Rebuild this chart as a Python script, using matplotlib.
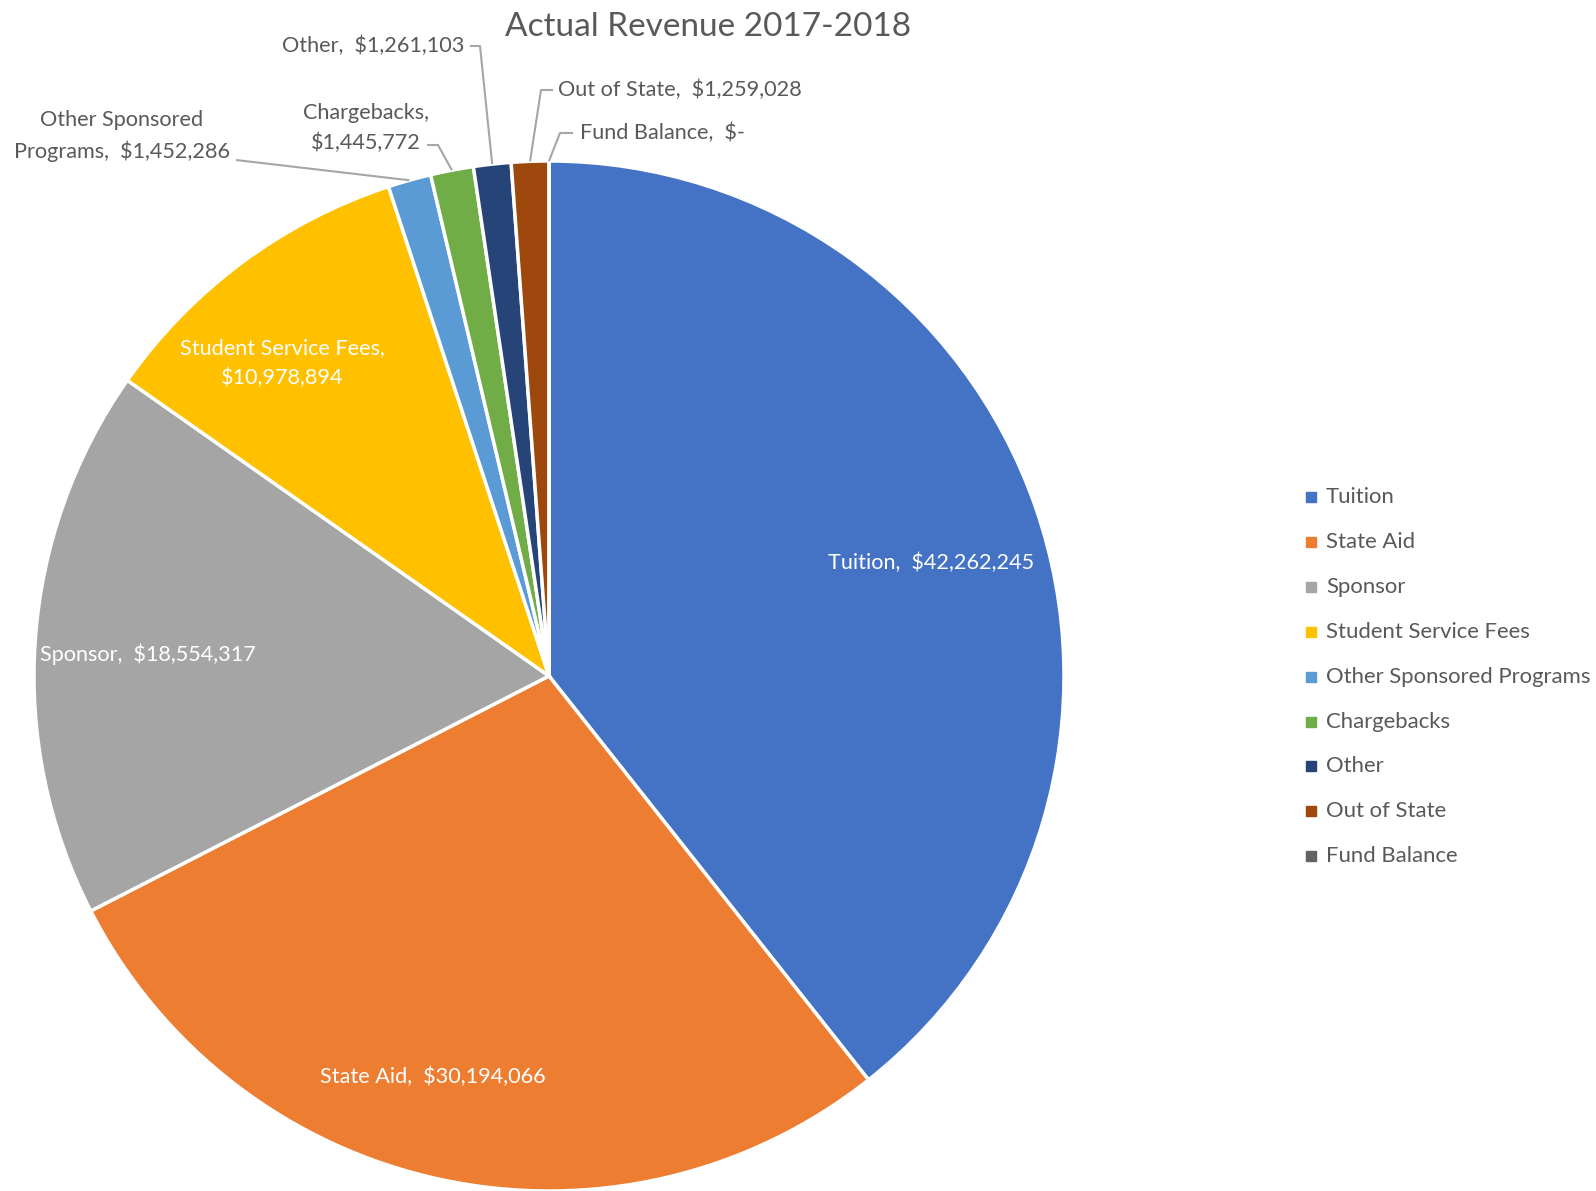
import numpy as np
import matplotlib
matplotlib.use("Agg")
import matplotlib.pyplot as plt

plt.rcParams['font.family'] = ['Lato', 'DejaVu Sans']

categories = ["Tuition", "State Aid", "Sponsor", "Student Service Fees",
              "Other Sponsored Programs", "Chargebacks", "Other",
              "Out of State", "Fund Balance"]
revenue = [42262245, 30194066, 18554317, 10978894, 1452286, 1445772,
           1261103, 1259028, 0]
colors = ["#4472C4", "#ED7D31", "#A5A5A5", "#FFC000", "#5B9BD5",
          "#70AD47", "#264478", "#9E480E", "#636363"]
title = "Actual Revenue 2017-2018"

W, H = 1596, 1191
fig = plt.figure(figsize=(W / 100, H / 100), dpi=100)
ax = fig.add_axes([0, 0, 1, 1])

def Y(y):
    # convert a top-down pixel row to the axes' bottom-up coordinate
    return H - y

cx, cy, R = 549, Y(676), 515
wedges, _ = ax.pie(revenue, colors=colors, startangle=90, counterclock=False,
                   center=(cx, cy), radius=R,
                   wedgeprops=dict(edgecolor='white', linewidth=2.5))
ax.set_xlim(0, W)
ax.set_ylim(0, H)
ax.set_aspect('equal')
ax.axis('off')

def fmt(v):
    return "$-" if v == 0 else "${:,}".format(v)

def edge_point(i):
    w = wedges[i]
    ang = np.deg2rad((w.theta1 + w.theta2) / 2)
    return cx + R * np.cos(ang), cy + R * np.sin(ang)

txt_col = "#595959"
lab_fs = 15.6
ls = 1.6

# labels inside the large slices
inside = {0: (931, 563), 1: (433, 1077), 2: (148, 654)}
for i, (x, y) in inside.items():
    ax.text(x, Y(y), f"{categories[i]},  {fmt(revenue[i])}", color='white',
            fontsize=lab_fs, ha='center', va='center')
ax.text(282, Y(363), f"{categories[3]},\n{fmt(revenue[3])}", color='white',
        fontsize=lab_fs, ha='center', va='center', linespacing=ls)

# outside labels with leader lines for the thin slices
outside = [
    (4, "Other Sponsored\nPrograms,  " + fmt(revenue[4]), (122, 136), [(236, 160)]),
    (5, "Chargebacks,\n" + fmt(revenue[5]), (366, 128), [(427, 145), (438, 145)]),
    (6, "Other,  " + fmt(revenue[6]), (373, 46), [(470, 46), (480, 46)]),
    (7, "Out of State,  " + fmt(revenue[7]), (680, 90), [(553, 90), (541, 90)]),
    (8, "Fund Balance,  " + fmt(revenue[8]), (662, 133), [(573, 133), (560, 133)]),
]
for i, text, (x, y), path in outside:
    ax.text(x, Y(y), text, color=txt_col, fontsize=lab_fs, ha='center',
            va='center', linespacing=ls)
    ex, ey = edge_point(i)
    xs = [p[0] for p in path] + [ex]
    ys = [Y(p[1]) for p in path] + [ey]
    ax.plot(xs, ys, color="#A6A6A6", linewidth=1.5, solid_capstyle='butt')

ax.text(708, Y(27), title, color=txt_col, fontsize=24, ha='center', va='center')

# legend
for k, (name, c) in enumerate(zip(categories, colors)):
    ly = Y(497 + k * 44.9)
    ax.plot(1311, ly, marker='s', markersize=6.5, color=c, linestyle='none')
    ax.text(1326, ly, name, color=txt_col, fontsize=15.9, ha='left', va='center')

fig.savefig("out.png", dpi=100)
